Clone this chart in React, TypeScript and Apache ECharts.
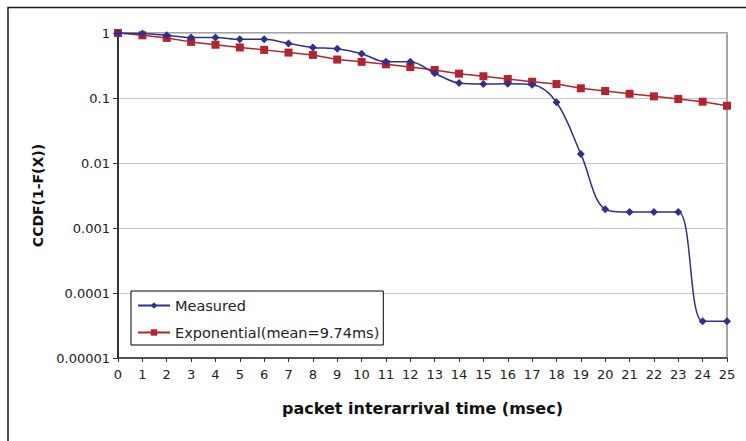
import React, { useEffect, useRef } from "react";
import * as echarts from "echarts";

const xValues = [0, 1, 2, 3, 4, 5, 6, 7, 8, 9, 10, 11, 12, 13, 14, 15, 16, 17, 18, 19, 20, 21, 22, 23, 24, 25];
const measured = [1, 0.98, 0.92, 0.85, 0.85, 0.8, 0.8, 0.69, 0.6, 0.57, 0.48, 0.36, 0.36, 0.24, 0.17, 0.164, 0.165, 0.16, 0.086, 0.0138, 0.00194, 0.00176, 0.00176, 0.00176, 0.0000367, 0.0000367];
const exponential = [1, 0.92, 0.84, 0.73, 0.66, 0.6, 0.55, 0.5, 0.46, 0.39, 0.36, 0.33, 0.3, 0.27, 0.237, 0.216, 0.196, 0.178, 0.164, 0.141, 0.128, 0.116, 0.106, 0.0966, 0.0877, 0.076];
const seriesNames = ["Measured", "Exponential(mean=9.74ms)"];
const xTitle = "packet interarrival time (msec)";
const yTitle = "CCDF(1-F(X))";

const FONT = "DejaVu Sans";

export default function App() {
  const ref = useRef<HTMLDivElement>(null);
  useEffect(() => {
    if (!ref.current) return;
    const chart = echarts.init(ref.current, null, { renderer: "svg" });
    chart.setOption({
      animation: false,
      backgroundColor: "#ffffff",
      textStyle: { fontFamily: FONT },
      grid: {
        left: 118,
        right: 19,
        top: 33,
        bottom: 83,
        show: true,
        borderColor: "#a6a6a6",
        borderWidth: 2,
        backgroundColor: "transparent",
      },
      graphic: [
        {
          type: "rect",
          shape: { x: 8, y: 7.5, width: 800, height: 500 },
          style: { fill: "none", stroke: "#1a1a1a", lineWidth: 1.5 },
          silent: true,
          z: 0,
        },
      ],
      legend: {
        left: 131,
        top: 291,
        orient: "vertical",
        backgroundColor: "#ffffff",
        borderColor: "#000000",
        borderWidth: 1,
        padding: [7, 4, 5, 6],
        itemGap: 12,
        itemWidth: 32,
        itemHeight: 8,
        textStyle: { fontFamily: FONT, fontSize: 14.5, color: "#222222" },
        data: seriesNames,
      },
      xAxis: {
        type: "value",
        min: 0,
        max: 25,
        interval: 1,
        name: xTitle,
        nameLocation: "middle",
        nameGap: 42,
        nameTextStyle: { fontFamily: FONT, fontSize: 16, fontWeight: "bold", color: "#111111" },
        axisLine: { onZero: false, lineStyle: { color: "#333333", width: 1.5 } },
        axisTick: { show: true, length: 4, lineStyle: { color: "#333333" } },
        axisLabel: { margin: 10, fontFamily: FONT, fontSize: 13, color: "#222222" },
        splitLine: { show: false },
      },
      yAxis: {
        type: "log",
        logBase: 10,
        min: 0.00001,
        max: 1,
        name: yTitle,
        nameLocation: "middle",
        nameGap: 70,
        nameTextStyle: { fontFamily: FONT, fontSize: 14, fontWeight: "bold", color: "#111111" },
        axisLine: { show: true, lineStyle: { color: "#333333", width: 2 } },
        axisTick: { show: true, length: 5, lineStyle: { color: "#333333" } },
        axisLabel: {
          margin: 8,
          fontFamily: FONT,
          fontSize: 13,
          color: "#222222",
          formatter: (v: number) => {
            const e = Math.round(Math.log10(v));
            return e >= 0 ? "1" : v.toFixed(-e);
          },
        },
        splitLine: { show: true, lineStyle: { color: "#c8c8c8", width: 1 } },
      },
      series: [
        {
          name: seriesNames[0],
          type: "line",
          data: xValues.map((x, i) => [x, measured[i]]),
          smooth: 0.35,
          symbol: "diamond",
          symbolSize: 8,
          color: "#2e3192",
          lineStyle: { color: "#2e3192", width: 1.5 },
          itemStyle: { color: "#2e3192" },
          z: 3,
        },
        {
          name: seriesNames[1],
          type: "line",
          data: xValues.map((x, i) => [x, exponential[i]]),
          smooth: false,
          symbol: "rect",
          symbolSize: 8,
          color: "#b5242c",
          lineStyle: { color: "#b5242c", width: 1.5 },
          itemStyle: { color: "#b5242c" },
          z: 2,
        },
      ],
    });
    return () => chart.dispose();
  }, []);
  return (
    <div
      ref={ref}
      style={{ position: "absolute", left: 0, top: 0, width: 746, height: 441 }}
    />
  );
}
